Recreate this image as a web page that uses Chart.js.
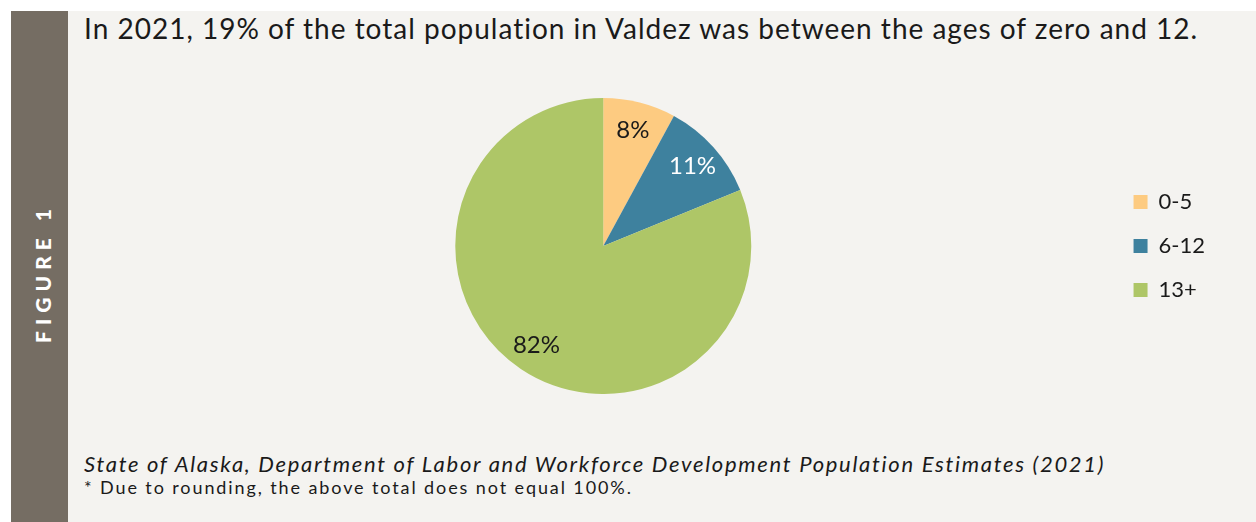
<!DOCTYPE html>
<html>
<head>
<meta charset="utf-8">
<script src="https://cdn.jsdelivr.net/npm/chart.js@4"></script>
<style>
  html, body { margin: 0; padding: 0; background: #fff; }
  body { width: 1256px; height: 522px; position: relative; overflow: hidden; font-family: Lato, "Open Sans", sans-serif; color: #1a1a1a; }
  #side { position: absolute; left: 11px; top: 11px; width: 57px; height: 511px; background: #756d63; }
  #side span {
    position: absolute; left: 31px; top: 262px; transform: translate(-50%, -50%) rotate(-90deg);
    color: #fff; font-weight: 900; font-size: 21px; letter-spacing: 6px; white-space: nowrap; line-height: 1;
  }
  #panel { position: absolute; left: 68px; top: 11px; right: 0; bottom: 0; background: #f4f3f0; }
  .txt { position: absolute; left: 84px; white-space: nowrap; line-height: 1; }
  #title { top: 14px; font-size: 28px; letter-spacing: 1px; }
  #source { top: 453px; font-size: 22px; font-style: italic; letter-spacing: 1.7px; }
  #note { top: 478px; font-size: 18px; letter-spacing: 1.9px; }
  #wrap { position: absolute; left: 68px; top: 98px; width: 1188px; height: 296px; }
</style>
</head>
<body>
<div id="side"><span>FIGURE 1</span></div>
<div id="panel"></div>
<div id="title" class="txt">In 2021, 19% of the total population in Valdez was between the ages of zero and 12.</div>
<div id="wrap"><canvas id="mainCanvas"></canvas></div>
<div id="source" class="txt">State of Alaska, Department of Labor and Workforce Development Population Estimates (2021)</div>
<div id="note" class="txt">* Due to rounding, the above total does not equal 100%.</div>
<script>
const ageGroups = ["0-5", "6-12", "13+"];
const sharePct = [8, 11, 82];
const sliceColors = ["#fdcb81", "#3e819e", "#aec667"];
const labelColors = ["#1a1a1a", "#ffffff", "#1a1a1a"];

// writes each slice's percentage inside it, along the slice's middle angle
const sliceLabels = {
  id: "sliceLabels",
  afterDatasetsDraw(chart) {
    const ctx = chart.ctx;
    const meta = chart.getDatasetMeta(0);
    ctx.save();
    ctx.font = "24px Lato, 'Open Sans', sans-serif";
    ctx.textAlign = "center";
    ctx.textBaseline = "middle";
    meta.data.forEach((arc, i) => {
      const mid = (arc.startAngle + arc.endAngle) / 2;
      const r = arc.outerRadius * 0.81;
      ctx.fillStyle = labelColors[i];
      ctx.fillText(sharePct[i] + "%", arc.x + Math.cos(mid) * r, arc.y + Math.sin(mid) * r);
    });
    ctx.restore();
  }
};

new Chart(document.getElementById("mainCanvas"), {
  type: "pie",
  data: {
    labels: ageGroups,
    datasets: [{
      data: sharePct,
      backgroundColor: sliceColors,
      borderWidth: 0,
    }],
  },
  options: {
    responsive: true,
    maintainAspectRatio: false,
    animation: false,
    layout: { padding: { left: 27, right: 41 } },
    plugins: {
      tooltip: { enabled: false },
      legend: {
        position: "right",
        labels: {
          boxWidth: 14,
          boxHeight: 14,
          padding: 22,
          color: "#1a1a1a",
          font: { family: "Lato, 'Open Sans', sans-serif", size: 22 },
        },
      },
    },
  },
  plugins: [sliceLabels],
});
</script>
</body>
</html>
